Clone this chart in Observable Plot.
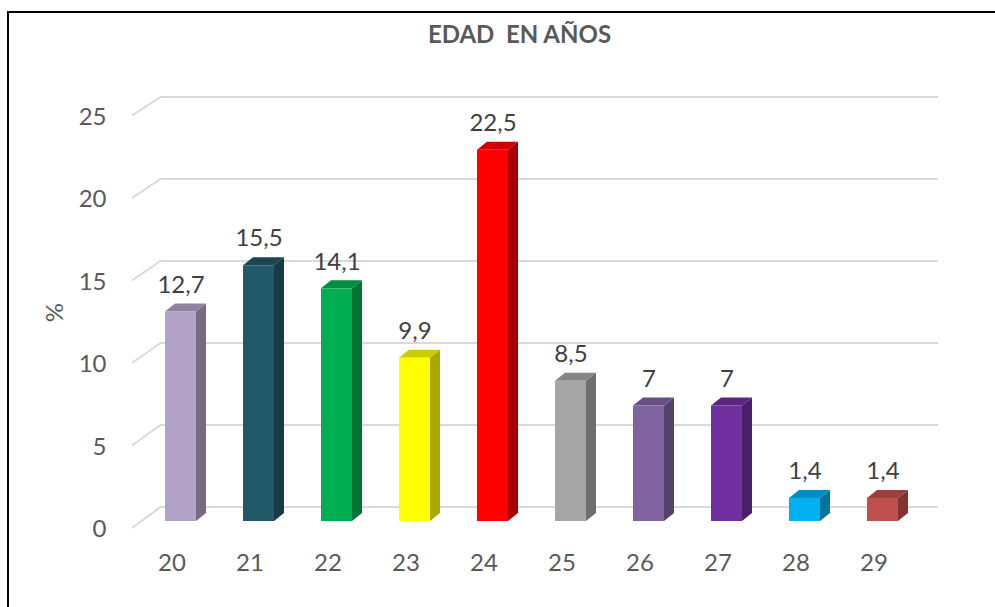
<!DOCTYPE html>
<html><head><meta charset="utf-8">
<script src="https://cdn.jsdelivr.net/npm/d3@7"></script>
<script src="https://cdn.jsdelivr.net/npm/@observablehq/plot@0.6"></script>
<style>body{margin:0;background:#fff;overflow:hidden}</style>
</head><body><div id="chart"></div>
<script>
// ---- data ----
const ages = ["20","21","22","23","24","25","26","27","28","29"];
const values = [12.7, 15.5, 14.1, 9.9, 22.5, 8.5, 7, 7, 1.4, 1.4];
const valueLabels = ["12,7","15,5","14,1","9,9","22,5","8,5","7","7","1,4","1,4"];
const yTicks = [0, 5, 10, 15, 20, 25];
const yTickLabels = ["0","5","10","15","20","25"];
const title = "EDAD  EN AÑOS";
const yLabel = "%";
const colors = ["#B3A2C7","#215968","#00B050","#FFFF00","#FF0000","#A6A6A6","#8064A2","#7030A0","#00B0F0","#C0504D"];

const data = ages.map((a, i) => ({age: a, value: values[i], label: valueLabels[i], color: colors[i]}));
const ticks = yTicks.map((v, i) => ({v, label: yTickLabels[i]}));

// ---- layout / style ----
const W = 995, H = 607;
const mL = 141.5, mR = 73.5, mT = 115.5, mB = 79;
const DX = 10, DY = -8, LIFT = -7;
const FONT = "Lato, 'Open Sans', sans-serif";
const shade = (c, k) => { const r = d3.rgb(c); return d3.rgb(r.r * k, r.g * k, r.b * k).formatHex(); };

function border(index, scales, values, dims) {
  const g = d3.create("svg:g");
  g.append("rect").attr("x", 8).attr("y", 12).attr("width", dims.width + 20).attr("height", dims.height + 20)
    .attr("fill", "none").attr("stroke", "#000").attr("stroke-width", 2);
  return g.node();
}

function grid(index, scales, values, dims) {
  const {y} = scales;
  const g = d3.create("svg:g");
  const y0 = y(0);
  for (const t of yTicks) {
    const yf = y(t);
    const yb = y0 - 21 - (y0 - yf) * 0.994;
    g.append("path")
      .attr("d", `M${dims.marginLeft - 9.5},${yf}L${dims.marginLeft + 19},${yb}H${dims.width - dims.marginRight + 16.5}`)
      .attr("fill", "none").attr("stroke", "#d9d9d9").attr("stroke-width", 2);
  }
  return g.node();
}

function depth(index, scales) {
  const {x, y} = scales;
  const bw = typeof x.bandwidth === "function" ? x.bandwidth() : x.bandwidth;
  const g = d3.create("svg:g");
  const yB = y(0) + LIFT;
  for (const d of data) {
    const x0 = x(d.age), x1 = x0 + bw;
    const yT = y(d.value) + LIFT;
    g.append("path").attr("d", `M${x1},${yT}L${x1 + DX},${yT + DY}L${x1 + DX},${yB + DY}L${x1},${yB}Z`)
      .attr("fill", shade(d.color, 0.66));
    g.append("path").attr("d", `M${x0},${yT}L${x0 + DX},${yT + DY}L${x1 + DX},${yT + DY}L${x1},${yT}Z`)
      .attr("fill", shade(d.color, 0.8));
  }
  return g.node();
}

const chart = Plot.plot({
  width: W, height: H,
  marginLeft: mL, marginRight: mR, marginTop: mT, marginBottom: mB,
  style: {background: "#fff", fontFamily: FONT},
  x: {type: "band", domain: ages, paddingInner: 0.6, paddingOuter: 0.3, axis: null},
  y: {type: "linear", domain: [0, 25], axis: null},
  color: {type: "identity"},
  marks: [
    border,
    grid,
    depth,
    Plot.barY(data, {x: "age", y: "value", fill: "color", dy: LIFT}),
    Plot.text(data, {x: "age", y: "value", text: "label", dy: -34, fontSize: 24, fill: "#404040", fontFamily: FONT}),
    Plot.text(data, {x: "age", text: "age", frameAnchor: "bottom", lineAnchor: "middle", dy: 35, dx: -9, fontSize: 24, fill: "#595959", fontFamily: FONT}),
    Plot.text(ticks, {y: "v", text: "label", frameAnchor: "left", lineAnchor: "middle", textAnchor: "end", dx: -35.5, dy: 1, fontSize: 24, fill: "#595959", fontFamily: FONT}),
    Plot.text([yLabel], {text: d => d, frameAnchor: "left", lineAnchor: "middle", rotate: -90, dx: -86.5, fontSize: 24, fill: "#595959", fontFamily: FONT}),
    Plot.text([title], {text: d => d, frameAnchor: "top", lineAnchor: "middle", dy: -80.5, dx: -12.5, fontSize: 24, fontWeight: "bold", fill: "#595959", fontFamily: FONT})
  ]
});
document.getElementById("chart").appendChild(chart);
</script>
</body></html>
